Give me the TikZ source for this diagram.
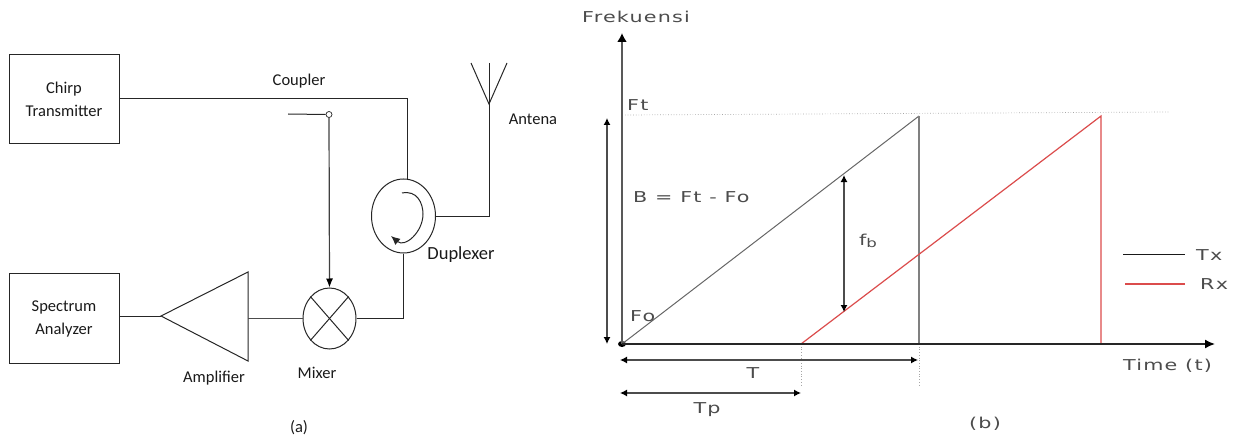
\documentclass[tikz,border=0pt]{standalone}
\usepackage{fontspec}
\setmainfont{Carlito}
\newfontfamily\plotfont[FakeStretch=1.38,LetterSpace=8]{DejaVu Sans}
\usetikzlibrary{arrows.meta,shapes.geometric}
\tikzset{
  x=1pt,y=-1pt,
  wire/.style={draw=black!85,line width=1pt},
  blockbox/.style={draw=black!85,line width=1pt,minimum width=110pt,minimum height=89.5pt,align=center,inner sep=0pt},
  ell/.style={draw=black!85,line width=1pt,ellipse,inner sep=0pt},
  lab/.style={font=\fontsize{16.5}{23}\selectfont,text=black!90,inner sep=0pt,align=center},
  plab/.style={font=\plotfont\fontsize{15}{18}\selectfont,text=black!70,inner sep=0pt},
  tx/.style={draw=black!60,line width=1.3pt},
  rx/.style={draw=red!80!black!70,line width=1.2pt},
  axis/.style={draw=black!65,line width=1.8pt,-{Latex[length=9pt,width=10pt,black]}},
  xaxis/.style={draw=black!85,line width=1.6pt,-{Latex[length=10pt,width=9pt,black]}},
  dim/.style={draw=black!70,line width=1.2pt,{Latex[length=7pt,width=7pt,black]}-{Latex[length=7pt,width=7pt,black]}},
  dots/.style={draw=black!35,line width=0.7pt,dotted},
}
\begin{document}
\begin{tikzpicture}
\useasboundingbox (0,0) rectangle (1237,441);
% ---- (a)
\node[blockbox,lab] (chirp) at (64,99) {Chirp\\Transmitter};
\node[blockbox,lab] (spec) at (64,318.5) {Spectrum\\Analyzer};
\node[ell,minimum width=64pt,minimum height=74pt] (dup) at (403.5,216) {};
\node[ell,minimum width=53pt,minimum height=61pt] (mix) at (329.5,318.5) {};
\draw[wire] (mix.north west) -- (mix.south east);
\draw[wire] (mix.north east) -- (mix.south west);
\coordinate (tipA) at (161,316);
\coordinate (topA) at (248,272);
\coordinate (botA) at (248,361);
\draw[wire] (tipA) -- (topA) -- (botA) -- cycle;
\coordinate (ampOut) at (248,318.5);
\draw[wire] (spec.east |- tipA) -- (tipA);
\draw[wire,draw=black!70,line width=1.2pt] (ampOut) -- (mix.west);
\draw[wire] (mix.east) -- (dup.south |- mix.east) -- (dup.south);
\coordinate (dupTop) at (407,179);
\draw[wire] (chirp.east) -- (dupTop |- chirp.east) -- (dupTop);
\node[circle,draw=black!85,line width=0.7pt,minimum size=6pt,inner sep=0pt] (tap) at (329,114.5) {};
\coordinate (swL) at (288,114);
\draw[wire] (swL) -- (tap.west);
\draw[wire,line width=1.2pt,draw=black!75,-{Latex[length=9pt,width=7pt,black]}] (tap.south) -- (mix.north);
\coordinate (antBase) at (489,104);
\coordinate (antTop) at (489,63);
\coordinate (antL) at (471,63);
\coordinate (antR) at (507,63);
\draw[wire] (antTop) -- (antBase |- dup.east) -- (dup.east);
\draw[wire] (antL) -- (antBase) -- (antR);
\coordinate (circS) at (402,193);
\coordinate (circE) at (391,236);
\draw[wire,-{Latex[length=9pt,width=8pt]}] (circS) .. controls (417,190) and (423,203) .. (423,214) .. controls (423,232) and (405,248) .. (391,236);
\node[lab] (coupler) at (299,81) {Coupler};
\node[lab] (antena) at (533,119) {Antena};
\node[lab,font=\fontsize{18.5}{23}\selectfont] (duplexer) at (461,255) {Duplexer};
\node[lab] (amplifier) at (214,378) {Amplifier};
\node[lab] (mixer) at (317,373) {Mixer};
\node[lab] (capa) at (299,428) {(a)};
% ---- (b)
\node[ellipse,fill=black,minimum width=8pt,minimum height=6pt,inner sep=0pt] (org) at (622,344) {};
\coordinate (yEnd) at (622,33);
\coordinate (xEnd) at (1215,344);
\coordinate (txTop) at (919,116);
\coordinate (txBot) at (919,344);
\coordinate (rxStart) at (801,344);
\coordinate (rxTop) at (1101,116);
\coordinate (rxBot) at (1101,344);
\coordinate (ftL) at (625,115);
\coordinate (ftR) at (1170,112);
\draw[dots] (ftL) -- (ftR);
\draw[dots] (rxStart) -- (801,385);
\draw[dots] (txBot) -- (919,385);
\draw[tx,line width=1pt] (org.center) -- (txTop);
\draw[tx,line width=1.8pt,draw=black!50] (txTop) -- (txBot);
\draw[rx] (rxStart) -- (rxTop) -- (rxBot);
\draw[axis] (org.center) -- (yEnd);
\draw[xaxis] (org.center) -- (xEnd);
\coordinate (bTop) at (607,118);
\coordinate (bBot) at (607,344);
\draw[dim] (bBot) -- (bTop);
\coordinate (fbTop) at (844,175);
\coordinate (fbBot) at (844,312);
\draw[dim] (fbBot) -- (fbTop);
\coordinate (tL) at (620,360);
\coordinate (tR) at (918,360);
\draw[dim] (tL) -- (tR);
\coordinate (tpL) at (620,393);
\coordinate (tpR) at (801,393);
\draw[dim] (tpL) -- (tpR);
\coordinate (txa) at (1123,254);
\coordinate (txb) at (1185,254);
\coordinate (rxa) at (1125,284);
\coordinate (rxb) at (1185,284);
\draw[draw=black!90,line width=1pt] (txa) -- (txb);
\draw[rx] (rxa) -- (rxb);
\node[plab,anchor=west] (frek) at (582,17) {Frekuensi};
\node[plab,anchor=west] (ft) at (627,105) {Ft};
\node[plab,anchor=west] (beq) at (633,197) {B = Ft - Fo};
\node[plab,anchor=west] (fo) at (630,316) {Fo};
\node[plab,anchor=west] (fb) at (859,241) {f\raisebox{-1.5pt}{\fontsize{12}{14}\selectfont b}};
\node[plab] (tlab) at (753,373) {T};
\node[plab] (tplab) at (707,410) {Tp};
\node[plab,anchor=west] (timelab) at (1123,366) {Time (t)};
\node[plab,anchor=west] (txl) at (1196,255) {Tx};
\node[plab,anchor=west] (rxl) at (1200,284) {Rx};
\node[plab] (capb) at (985,424) {(b)};
\end{tikzpicture}
\end{document}
